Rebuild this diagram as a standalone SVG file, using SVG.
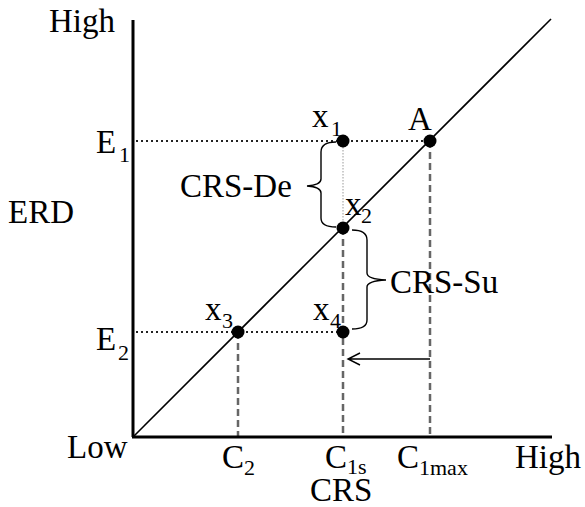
<svg xmlns="http://www.w3.org/2000/svg" width="585" height="507" viewBox="0 0 585 507">
<style>
text{font-family:"Liberation Serif","Times New Roman",serif;fill:#000}
.l{font-size:33px}
.s{font-size:22px}
.axis{stroke:#000;stroke-width:3;fill:none}
.diag{stroke:#000;stroke-width:1.6;fill:none}
.dot{stroke:#222;stroke-width:2.2;stroke-dasharray:2 3;fill:none}
.dash{stroke:#666;stroke-width:2.5;stroke-dasharray:7 4;fill:none}
.thin{stroke:#999;stroke-width:1;stroke-dasharray:1.5 1.5;fill:none}
.brace{stroke:#000;stroke-width:1.4;fill:none}
.pt{fill:#000}
</style>
<rect width="585" height="507" fill="#fff"/>
<g id="connectors">
<line class="dot" x1="136" y1="141" x2="430" y2="141"/>
<line class="dot" x1="136" y1="332" x2="343" y2="332"/>
<line class="thin" x1="343" y1="141" x2="343" y2="228"/>
<line class="dash" x1="238" y1="332" x2="238" y2="436"/>
<line class="dash" x1="343" y1="228" x2="343" y2="436"/>
<line class="dash" x1="430" y1="141" x2="430" y2="436"/>
<path class="brace" d="M430,359 L348,359 M360,353 L348,359 L360,365"/>
<path class="brace" d="M336,142 Q321,142 321,152 L321,179 Q321,185 307,186 Q321,187 321,193 L321,218 Q321,227 336,227"/>
<path class="brace" d="M352,230 Q367,230 367,240 L367,273 Q367,279 386,280 Q367,281 367,287 L367,320 Q367,329 352,329"/>
</g>
<g id="axes">
<line class="axis" x1="133" y1="20" x2="133" y2="437"/>
<line class="axis" x1="132" y1="437" x2="552" y2="437"/>
<line class="diag" x1="133" y1="437" x2="551" y2="19"/>
</g>
<g id="labels">
<text class="l" x="49" y="32">High</text>
<text class="l" x="8" y="223">ERD</text>
<text class="l" x="67" y="458">Low</text>
<text class="l" x="515" y="468">High</text>
<text class="l" x="310" y="501">CRS</text>
<text class="l" x="96" y="153">E</text><text class="s" x="119" y="162">1</text>
<text class="l" x="96" y="350">E</text><text class="s" x="118" y="360">2</text>
<text class="l" x="222" y="468">C</text><text class="s" x="244" y="475">2</text>
<text class="l" x="325" y="468">C</text><text class="s" x="347" y="474" font-size="21">1s</text>
<text class="l" x="397" y="468">C</text><text class="s" x="419" y="475">1max</text>
</g>
<g id="node-x1"><circle class="pt" cx="343" cy="141" r="6.5"/><text class="l" x="312" y="127">x</text><text class="s" x="331" y="136">1</text></g>
<g id="node-A"><circle class="pt" cx="430" cy="141" r="6.5"/><text class="l" x="408" y="130">A</text></g>
<g id="node-x2"><circle class="pt" cx="343" cy="228" r="6.5"/><text class="l" x="345" y="215">x</text><text class="s" x="361" y="223">2</text></g>
<g id="node-x3"><circle class="pt" cx="238" cy="332" r="6.5"/><text class="l" x="205" y="320">x</text><text class="s" x="222" y="328">3</text></g>
<g id="node-x4"><circle class="pt" cx="343" cy="332" r="6.5"/><text class="l" x="313" y="320">x</text><text class="s" x="330" y="328">4</text></g>
<g id="node-crs-de"><text class="l" x="180" y="197">CRS-De</text></g>
<g id="node-crs-su"><text class="l" x="390" y="293">CRS-Su</text></g>
</svg>
